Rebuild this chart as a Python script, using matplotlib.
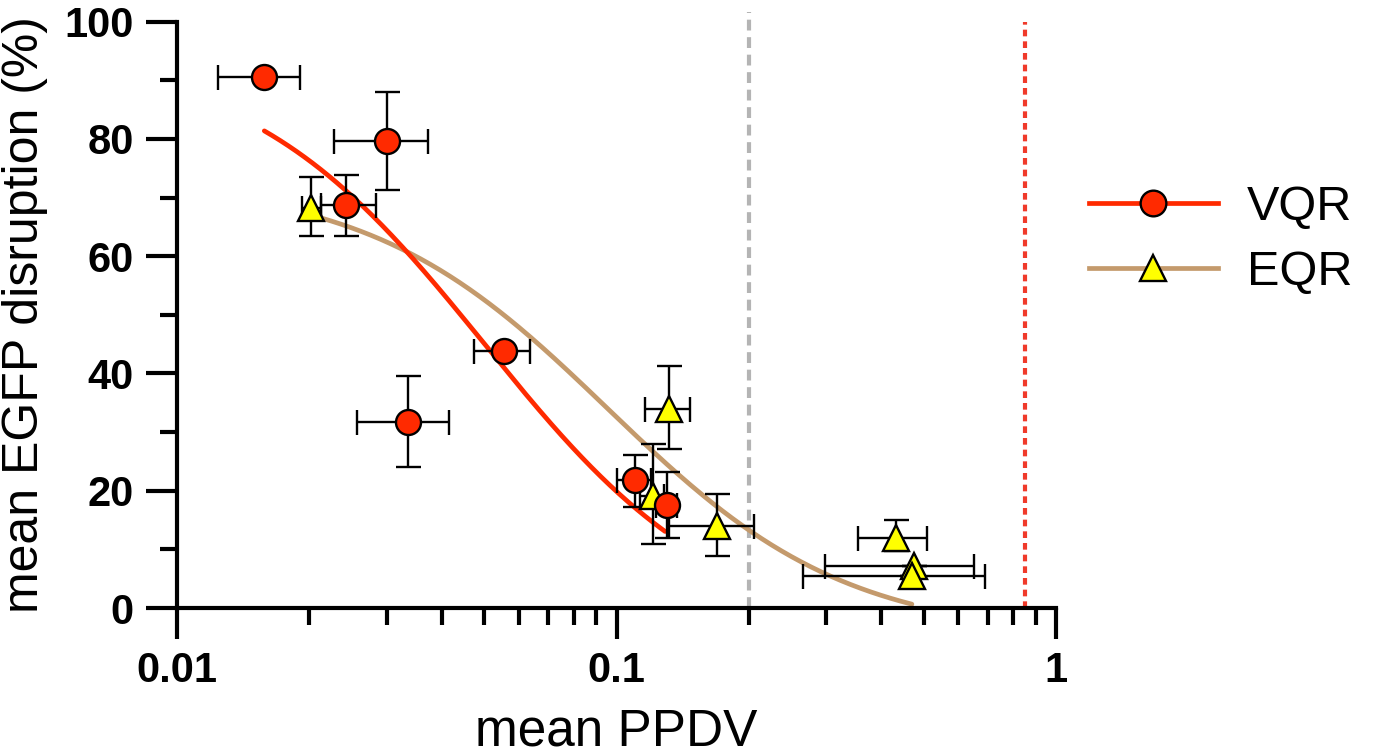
import numpy as np
import matplotlib
matplotlib.use("Agg")
import matplotlib.pyplot as plt
from matplotlib.ticker import FixedLocator, NullFormatter, LogLocator

plt.rcParams['font.family'] = ['Liberation Sans', 'DejaVu Sans']

# --- VQR measurements: mean PPDV (x) vs mean EGFP disruption (y) ---
vqr_x      = [0.0158, 0.0300, 0.0243, 0.0554, 0.0336, 0.110, 0.130]
vqr_x_lo   = [0.0124, 0.0228, 0.0213, 0.0473, 0.0257, 0.100, 0.123]
vqr_x_hi   = [0.0190, 0.0372, 0.0283, 0.0635, 0.0415, 0.120, 0.137]
vqr_y      = [90.6, 79.6, 68.8, 43.8, 31.7, 21.8, 17.5]
vqr_y_lo   = [90.6, 71.3, 63.4, 43.8, 24.0, 17.3, 11.9]
vqr_y_hi   = [90.6, 88.0, 73.9, 43.8, 39.6, 26.1, 23.2]

# --- EQR measurements ---
eqr_x      = [0.0202, 0.132, 0.121, 0.169, 0.432, 0.475, 0.470]
eqr_x_lo   = [0.0192, 0.116, 0.113, 0.132, 0.354, 0.298, 0.266]
eqr_x_hi   = [0.0213, 0.147, 0.128, 0.205, 0.508, 0.652, 0.689]
eqr_y      = [68.3, 33.9, 19.1, 14.0, 12.0, 7.2, 5.5]
eqr_y_lo   = [63.5, 27.1, 10.9, 8.8, 9.8, 7.2, 5.5]
eqr_y_hi   = [73.5, 41.2, 27.9, 19.4, 15.0, 7.2, 5.5]

# Dose-response fits: (top, bottom, log10 EC50, hill slope) and x range
vqr_fit = [95.0, -5.0, -1.30, 1.6]
vqr_fit_range = [0.0158, 0.129]
eqr_fit = [73.0, -5.0, -1.02, 1.6]
eqr_fit_range = [0.0213, 0.47]

# Reference thresholds
grey_threshold = 0.2
red_threshold = 0.85

x_ticks = [0.01, 0.1, 1]
x_tick_labels = ['0.01', '0.1', '1']
y_ticks = [0, 20, 40, 60, 80, 100]

RED = '#FF2A00'
TAN = '#C49A6C'
YELLOW = '#FFFF00'


def logistic(x, p):
    top, bottom, logec50, hill = p
    return bottom + (top - bottom) / (1.0 + 10 ** ((np.log10(x) - logec50) * hill))


fig = plt.figure(figsize=(13.73, 7.54), dpi=100)
ax = fig.add_axes([177 / 1373, 1 - 608 / 754, (1056 - 177) / 1373, (608 - 21.7) / 754])

ax.set_xscale('log')
ax.set_xlim(0.01, 1)
ax.set_ylim(0, 100)

# threshold lines
ax.axvline(grey_threshold, ymin=0, ymax=1.017, color='#B4B4B4', lw=3.0,
           linestyle=(0, (2.6, 1.6)), clip_on=False, zorder=1)
ax.axvline(red_threshold, ymin=0, ymax=1.0, color='#F03A2A', lw=3.0,
           linestyle=(0, (1.6, 1.2)), clip_on=False, zorder=1)

# fitted curves
xv = np.logspace(np.log10(vqr_fit_range[0]), np.log10(vqr_fit_range[1]), 300)
xe = np.logspace(np.log10(eqr_fit_range[0]), np.log10(eqr_fit_range[1]), 300)
ax.plot(xe, logistic(xe, eqr_fit), color=TAN, lw=3.4, zorder=2, solid_capstyle='round')
ax.plot(xv, logistic(xv, vqr_fit), color=RED, lw=3.4, zorder=2, solid_capstyle='round')


def errs(v, lo, hi):
    v = np.asarray(v); lo = np.asarray(lo); hi = np.asarray(hi)
    return np.vstack([v - lo, hi - v])


eb_kw = dict(fmt='none', ecolor='black', elinewidth=1.7, capsize=9, capthick=1.7, zorder=3)
ax.errorbar(eqr_x, eqr_y, xerr=errs(eqr_x, eqr_x_lo, eqr_x_hi),
            yerr=errs(eqr_y, eqr_y_lo, eqr_y_hi), **eb_kw)
ax.errorbar(vqr_x, vqr_y, xerr=errs(vqr_x, vqr_x_lo, vqr_x_hi),
            yerr=errs(vqr_y, vqr_y_lo, vqr_y_hi), **eb_kw)

ax.plot(eqr_x, eqr_y, linestyle='none', marker='^', ms=18.5, mfc=YELLOW, mec='black',
        mew=1.7, zorder=4)
ax.plot(vqr_x, vqr_y, linestyle='none', marker='o', ms=18, mfc=RED, mec='black',
        mew=1.7, zorder=5)

# legend handles
h_vqr, = ax.plot([], [], color=RED, lw=3.4, marker='o', ms=18.5, mfc=RED, mec='black', mew=1.7)
h_eqr, = ax.plot([], [], color=TAN, lw=3.4, marker='^', ms=18.5, mfc=YELLOW, mec='black', mew=1.7)
fig.legend([h_vqr, h_eqr], ['VQR', 'EQR'], loc='center left',
           bbox_to_anchor=(1089 / 1373, 1 - 240 / 754), frameon=False,
           fontsize=35, handlelength=2.65, handletextpad=0.6, labelspacing=0.42,
           borderpad=0, borderaxespad=0)

# spines and ticks
for s in ['top', 'right']:
    ax.spines[s].set_visible(False)
for s in ['left', 'bottom']:
    ax.spines[s].set_linewidth(3.0)

ax.xaxis.set_major_locator(FixedLocator(x_ticks))
ax.set_xticklabels(x_tick_labels)
ax.xaxis.set_minor_locator(LogLocator(base=10, subs=np.arange(2, 10)))
ax.xaxis.set_minor_formatter(NullFormatter())
ax.yaxis.set_major_locator(FixedLocator(y_ticks))
ax.yaxis.set_minor_locator(FixedLocator([10, 30, 50, 70, 90]))

ax.tick_params(which='major', length=22, width=3.0, direction='out', pad=9)
ax.tick_params(which='minor', length=12, width=3.0, direction='out')

for lab in ax.get_xticklabels() + ax.get_yticklabels():
    lab.set_fontweight('bold')
    lab.set_fontsize(30)

ax.set_xlabel('mean PPDV', fontsize=37, labelpad=12)
ax.set_ylabel('mean EGFP disruption (%)', fontsize=36, labelpad=12)

fig.savefig('out.png', dpi=100)
